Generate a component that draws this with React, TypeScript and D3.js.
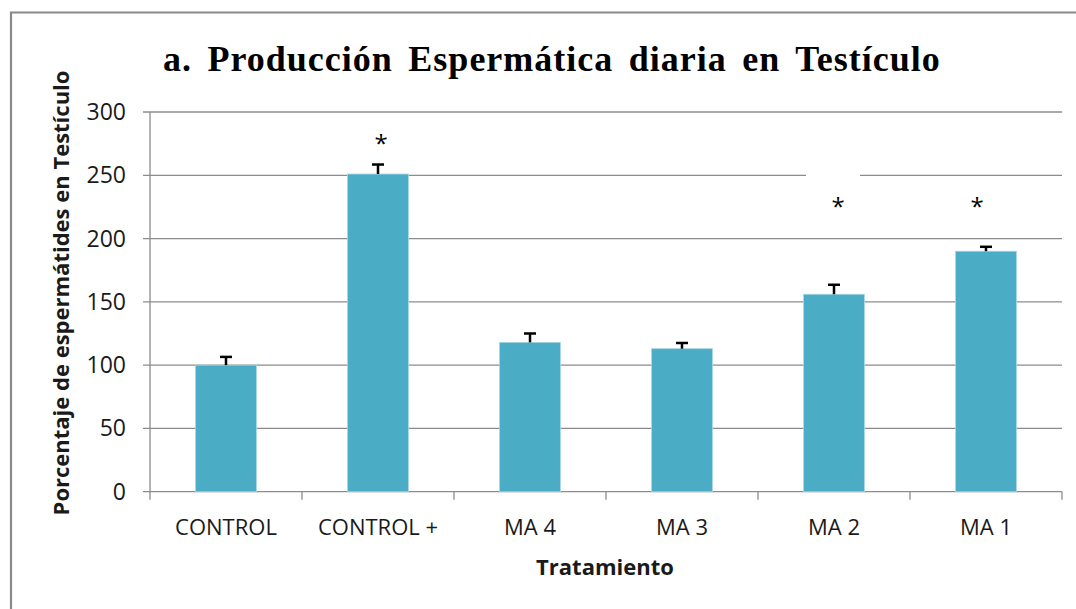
import React from "react";
import * as d3 from "d3";

const categories = ["CONTROL", "CONTROL +", "MA 4", "MA 3", "MA 2", "MA 1"];
const values = [100, 251, 118, 113, 156, 190];
const errors = [6.5, 7.5, 7, 4.5, 7.5, 3.5];
const significant = [false, true, false, false, true, true];
const yTicks = [0, 50, 100, 150, 200, 250, 300];

const W = 1076;
const H = 609;
const left = 150;
const right = 1062;
const top = 112;
const bottom = 491.7;
const sans = "'Open Sans', 'Liberation Sans', sans-serif";

export default function App() {
  const x = d3.scaleBand<string>().domain(categories).range([left, right]).paddingInner(0.6).paddingOuter(0.3);
  const xb = d3.scaleBand<string>().domain(categories).range([left, right]);
  const y = d3.scaleLinear().domain([0, 300]).range([bottom, top]);
  const grid = "#8c8c8c";
  const starY = [0, 138, 0, 0, 201, 201];
  const starX = [0, 3, 0, 0, 4, -9];
  return (
    <svg width={W} height={H} style={{ position: "absolute", left: 0, top: 0 }}>
      <rect x={0} y={0} width={W} height={H} fill="#fff" />
      <path d={`M11,${H} V12.5 H${W}`} fill="none" stroke="#8a8a8a" strokeWidth={2.2} />
      <text x={163} y={71} textAnchor="start" fontFamily="'Liberation Serif', 'Times New Roman', serif" fontWeight="bold" fontSize={36} letterSpacing={1} wordSpacing={5.5} fill="#000">
        a. Producción Espermática diaria en Testículo
      </text>
      {yTicks.map((t) => (
        <g key={t}>
          <line x1={left - 7} x2={right} y1={y(t)} y2={y(t)} stroke={grid} strokeWidth={1.3} />
          <text x={126} y={y(t)} dy="0.35em" textAnchor="end" fontFamily={sans} fontSize={23} fill="#1a1a1a">{t}</text>
        </g>
      ))}
      {/* white gap covering gridline near MA 2 */}
      <rect x={806} y={y(250) - 3} width={54} height={6} fill="#fff" />
      <line x1={left} x2={left} y1={top} y2={bottom + 8} stroke={grid} strokeWidth={1.3} />
      {categories.map((c) => (
        <line key={"t" + c} x1={(xb(c) as number) + xb.bandwidth()} x2={(xb(c) as number) + xb.bandwidth()} y1={bottom} y2={bottom + 8} stroke={grid} strokeWidth={1.3} />
      ))}
      {categories.map((c, i) => {
        const bx = x(c) as number;
        const cx = bx + x.bandwidth() / 2;
        return (
          <g key={c}>
            <rect x={bx} y={y(values[i])} width={x.bandwidth()} height={bottom - y(values[i])} fill="#4bacc6" stroke="#a9d5e2" strokeWidth={0.8} />
            <line x1={cx} x2={cx} y1={y(values[i])} y2={y(values[i] + errors[i])} stroke="#000" strokeWidth={2.5} />
            <line x1={cx - 6} x2={cx + 6} y1={y(values[i] + errors[i])} y2={y(values[i] + errors[i])} stroke="#000" strokeWidth={2.5} />
            <text x={(xb(c) as number) + xb.bandwidth() / 2} y={527} dy="0.35em" textAnchor="middle" fontFamily={sans} fontSize={22} fill="#1a1a1a">{c}</text>
            {significant[i] && (
              <text x={cx + starX[i]} y={starY[i]} dy="0.6em" textAnchor="middle" fontFamily={sans} fontSize={24} fill="#000">*</text>
            )}
          </g>
        );
      })}
      <text x={605} y={567} dy="0.35em" textAnchor="middle" fontFamily={sans} fontWeight="bold" fontSize={22} fill="#1a1a1a">Tratamiento</text>
      <text transform={`translate(61,293) rotate(-90)`} dy="0.35em" textAnchor="middle" fontFamily={sans} fontWeight="bold" fontSize={22} fill="#1a1a1a">Porcentaje de espermátides en Testículo</text>
    </svg>
  );
}
